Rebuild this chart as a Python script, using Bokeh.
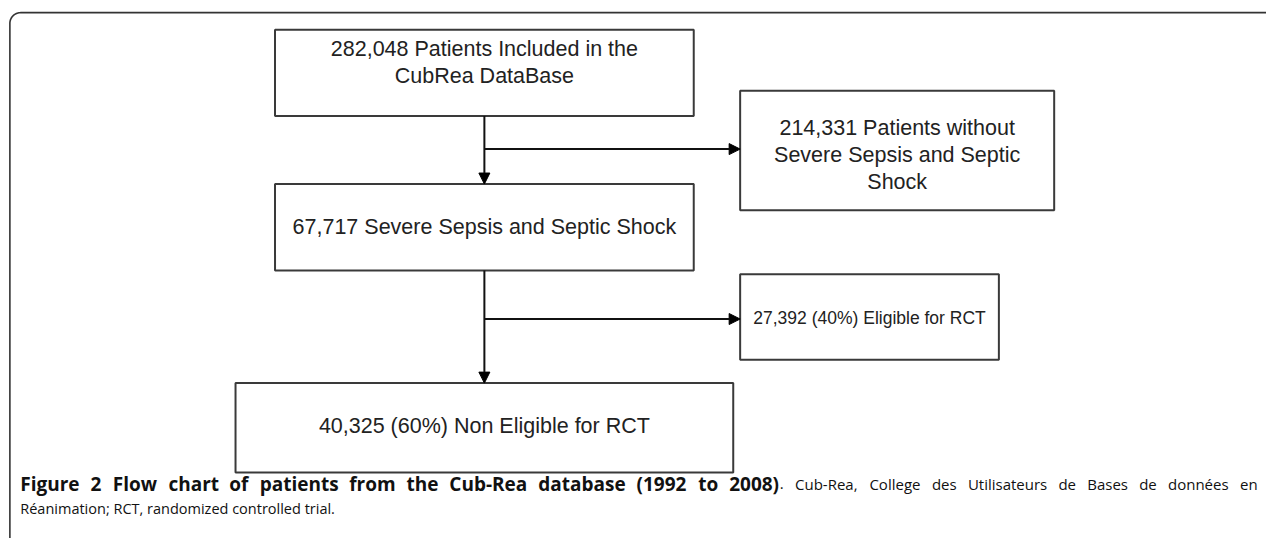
import numpy as np
from bokeh.plotting import figure
from bokeh.models import Range1d, Arrow, NormalHead
from bokeh.core.properties import value
from bokeh.embed import file_html
from bokeh.resources import INLINE

# ---- data (flow chart content) ----
box_labels = [
    ["282,048 Patients Included in the", "CubRea DataBase"],
    ["214,331 Patients without", "Severe Sepsis and Septic", "Shock"],
    ["67,717 Severe Sepsis and Septic Shock"],
    ["27,392 (40%) Eligible for RCT"],
    ["40,325 (60%) Non Eligible for RCT"],
]
caption_bold = "Figure 2 Flow chart of patients from the Cub-Rea database (1992 to 2008)"
caption_rest1 = ". Cub-Rea, College des Utilisateurs de Bases de données en"
caption_rest2 = "Réanimation; RCT, randomized controlled trial."

# ---- layout (reference pixel space 1282 x 554) ----
box_left = [278, 749, 278, 749, 238]
box_right = [702, 1067, 702, 1011, 742]
box_top = [30, 93, 189, 282, 394]
box_bottom = [119, 216, 278, 370, 486]
box_font = ["21.5px", "21.5px", "21.5px", "17.5px", "21.5px"]
text_y0 = [50, 131, 233, 327, 438]
line_gap = 28

W, H = 1266, 538
SX = 1282 / W  # data units per screen pixel
p = figure(width=W, height=H, output_backend="svg", toolbar_location=None,
           x_range=Range1d(0, 1282), y_range=Range1d(554, 0),
           min_border=0, outline_line_color=None, background_fill_color="white")
p.axis.visible = False
p.grid.visible = False

# outer rounded frame (extends beyond the visible area on right/bottom)
r = 11
L, T, R, B = 9.5, 12.5, 1300, 600
t = np.linspace(np.pi, 1.5 * np.pi, 20)
fx = [L, L] + list(L + r + r * np.cos(t)) + [R]
fy = [B, T + r] + list(T + r + r * np.sin(t)) + [T]
p.line(fx, fy, line_color="#333333", line_width=1.6)

# boxes
p.quad(left=box_left, right=box_right, top=box_top, bottom=box_bottom,
       fill_color="white", line_color="#3a3a3a", line_width=2)

# connectors
cx = (box_left[0] + box_right[0]) / 2
branch1 = 153
branch2 = 328
for xs, ys, xe, ye in [
    (cx, box_bottom[0], cx, box_top[2]),
    (cx, branch1, box_left[1], branch1),
    (cx, box_bottom[2], cx, box_top[4]),
    (cx, branch2, box_left[3], branch2),
]:
    p.add_layout(Arrow(end=NormalHead(size=11, fill_color="black", line_color="black", line_width=1),
                       x_start=xs, y_start=ys, x_end=xe, y_end=ye,
                       line_color="#111111", line_width=2))

# box texts
for i, lines in enumerate(box_labels):
    c = (box_left[i] + box_right[i]) / 2
    ys = [text_y0[i] + j * line_gap for j in range(len(lines))]
    p.text(x=[c] * len(lines), y=ys, text=lines, text_align="center", text_baseline="middle",
           text_font=value("Liberation Sans"), text_font_size=box_font[i], text_color="#222222")

# ---- caption: justified first line (approximate Open Sans advance widths) ----
REG = dict(zip(" abcdefghijklmnopqrstuvwxyz.,;-()%é",
               [260, 556, 613, 476, 613, 561, 339, 548, 614, 253, 253, 525, 253, 930, 614, 604,
                613, 613, 408, 477, 353, 614, 501, 778, 524, 502, 468, 266, 266, 266, 322, 296, 296, 837, 561]))
BLD = dict(zip(" abcdefghijklmnopqrstuvwxyz.,;-()%é",
               [260, 586, 625, 513, 625, 593, 387, 556, 637, 303, 303, 600, 303, 958, 637, 615,
                625, 625, 435, 500, 405, 637, 560, 852, 580, 551, 500, 291, 291, 291, 322, 339, 339, 900, 593]))
CAPS = {"F": 539, "C": 634, "R": 640, "U": 722, "B": 640, "T": 556}


def est(word, table, scale):
    s = 0
    for ch in word:
        if ch.isdigit():
            s += 572
        elif ch in CAPS:
            s += CAPS[ch]
        else:
            s += table.get(ch, 560)
    return s / 1000 * scale


# calibrate to the measured rendering widths (em) of the full strings
cal_b = 36.1 / est(caption_bold, BLD, 1)
cal_r = 27.5 / est(caption_rest1, REG, 1)
fb, fn = 19.0, 15.0
words = [(w, True) for w in caption_bold.split(" ")]
words += [(".", False)] + [(w, False) for w in caption_rest1[2:].split(" ")]
widths = [est(w, BLD if b else REG, cal_b if b else cal_r) * (fb if b else fn) * SX for w, b in words]
X0, X1 = 20, 1273
n_gaps = len(words) - 2  # no gap between "2008)" and "."
gap = (X1 - X0 - sum(widths)) / n_gaps
xs_b, tx_b, xs_n, tx_n = [], [], [], []
x = X0
for k, ((w, b), wd) in enumerate(zip(words, widths)):
    if b:
        xs_b.append(x); tx_b.append(w)
    else:
        xs_n.append(x); tx_n.append(w)
    x += wd
    if k + 1 < len(words) and words[k + 1][0] != ".":
        x += gap
# anchor the last word at the right edge
xs_n[-1] = X1
p.text(x=xs_b, y=[498] * len(xs_b), text=tx_b, text_align="left", text_baseline="middle",
       text_font=value("Open Sans"), text_font_style="bold", text_font_size=f"{fb}px", text_color="#111111")
p.text(x=xs_n[:-1], y=[498] * (len(xs_n) - 1), text=tx_n[:-1], text_align="left", text_baseline="middle",
       text_font=value("Open Sans"), text_font_size=f"{fn}px", text_color="#111111")
p.text(x=[xs_n[-1]], y=[498], text=[tx_n[-1]], text_align="right", text_baseline="middle",
       text_font=value("Open Sans"), text_font_size=f"{fn}px", text_color="#111111")
p.text(x=[20], y=[523], text=[caption_rest2], text_align="left", text_baseline="middle",
       text_font=value("Open Sans"), text_font_size="14.5px", text_color="#111111")

open("out.html", "w").write(file_html(p, INLINE))
